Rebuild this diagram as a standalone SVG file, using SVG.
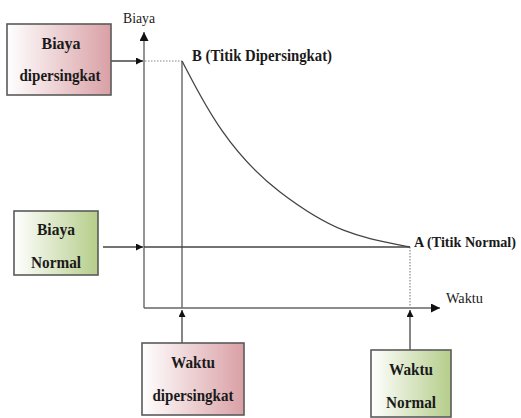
<svg xmlns="http://www.w3.org/2000/svg" width="521" height="418" viewBox="0 0 521 418">
<style>
.box{stroke:#5a5a5a;stroke-width:1.6}
.bt{font-family:"Liberation Serif","Times New Roman",serif;font-weight:bold;font-size:16px;fill:#1a1a1a;text-anchor:middle}
.lt{font-family:"Liberation Serif","Times New Roman",serif;font-weight:bold;font-size:16px;fill:#1a1a1a}
.ax{font-family:"Liberation Serif","Times New Roman",serif;font-size:14px;fill:#1a1a1a}
.axis{stroke:#666;stroke-width:1.4;fill:none}
.arr{stroke:#444;stroke-width:1.3;fill:none}
.dot{stroke:#888;stroke-width:1.2;stroke-dasharray:1.5 1.5;fill:none}
</style>
<defs>
<linearGradient id="pink" x1="0" y1="0" x2="1" y2="0">
<stop offset="0" stop-color="#ffffff"/>
<stop offset="1" stop-color="#d9a0a5"/>
</linearGradient>
<linearGradient id="green" x1="0" y1="0" x2="1" y2="0">
<stop offset="0" stop-color="#ffffff"/>
<stop offset="1" stop-color="#b5cd8a"/>
</linearGradient>
<marker id="ah" viewBox="0 0 10 10" refX="10" refY="5" markerWidth="7" markerHeight="7" markerUnits="userSpaceOnUse" orient="auto">
<path d="M0,0 L10,5 L0,10 Z" fill="#111"/>
</marker>
<marker id="ahb" viewBox="0 0 10 10" refX="10" refY="5" markerWidth="9" markerHeight="9" markerUnits="userSpaceOnUse" orient="auto">
<path d="M0,0 L10,5 L0,10 Z" fill="#111"/>
</marker>
</defs>

<g id="axes">
<line class="axis" x1="144" y1="308" x2="144" y2="32" marker-end="url(#ahb)"/>
<line class="axis" x1="144" y1="308" x2="440" y2="308" marker-end="url(#ahb)"/>
<text class="ax" x="123" y="23" textLength="32" lengthAdjust="spacingAndGlyphs">Biaya</text>
<text class="ax" x="446" y="303" textLength="37" lengthAdjust="spacingAndGlyphs">Waktu</text>
</g>

<g id="connectors">
<line class="arr" x1="106" y1="61" x2="143" y2="61" marker-end="url(#ah)"/>
<line class="dot" x1="145" y1="61" x2="182" y2="61"/>
<line class="axis" x1="182" y1="61" x2="182" y2="308"/>
<line class="arr" x1="103" y1="247" x2="143" y2="247" marker-end="url(#ah)"/>
<line class="arr" x1="144" y1="247" x2="410" y2="247"/>
<line class="dot" x1="410" y1="247" x2="410" y2="308"/>
<line class="arr" x1="182" y1="343" x2="182" y2="310" marker-end="url(#ah)"/>
<line class="arr" x1="410" y1="350" x2="410" y2="310" marker-end="url(#ah)"/>
<path class="arr" d="M182,61 C200,95 225,150 280,192 S360,237 410,247"/>
</g>

<g id="pointB">
<text class="lt" x="192" y="61" textLength="140" lengthAdjust="spacingAndGlyphs">B (Titik Dipersingkat)</text>
</g>
<g id="pointA">
<text class="lt" x="414" y="247" style="font-size:14.3px" textLength="102" lengthAdjust="spacingAndGlyphs">A (Titik Normal)</text>
</g>

<g id="biaya-dipersingkat">
<rect class="box" x="7" y="24" width="104" height="71" fill="url(#pink)"/>
<text class="bt" x="61" y="49" textLength="39" lengthAdjust="spacingAndGlyphs">Biaya</text>
<text class="bt" x="60" y="81" textLength="81" lengthAdjust="spacingAndGlyphs">dipersingkat</text>
</g>

<g id="biaya-normal">
<rect class="box" x="14" y="211" width="84" height="64" fill="url(#green)"/>
<text class="bt" x="56" y="235" textLength="38" lengthAdjust="spacingAndGlyphs">Biaya</text>
<text class="bt" x="56" y="268" textLength="50" lengthAdjust="spacingAndGlyphs">Normal</text>
</g>

<g id="waktu-dipersingkat">
<rect class="box" x="142" y="343" width="102" height="72" fill="url(#pink)"/>
<text class="bt" x="193" y="368" textLength="44" lengthAdjust="spacingAndGlyphs">Waktu</text>
<text class="bt" x="193" y="401" textLength="81" lengthAdjust="spacingAndGlyphs">dipersingkat</text>
</g>

<g id="waktu-normal">
<rect class="box" x="371" y="350" width="80" height="67" fill="url(#green)"/>
<text class="bt" x="411" y="375" textLength="44" lengthAdjust="spacingAndGlyphs">Waktu</text>
<text class="bt" x="411" y="408" textLength="50" lengthAdjust="spacingAndGlyphs">Normal</text>
</g>
</svg>
